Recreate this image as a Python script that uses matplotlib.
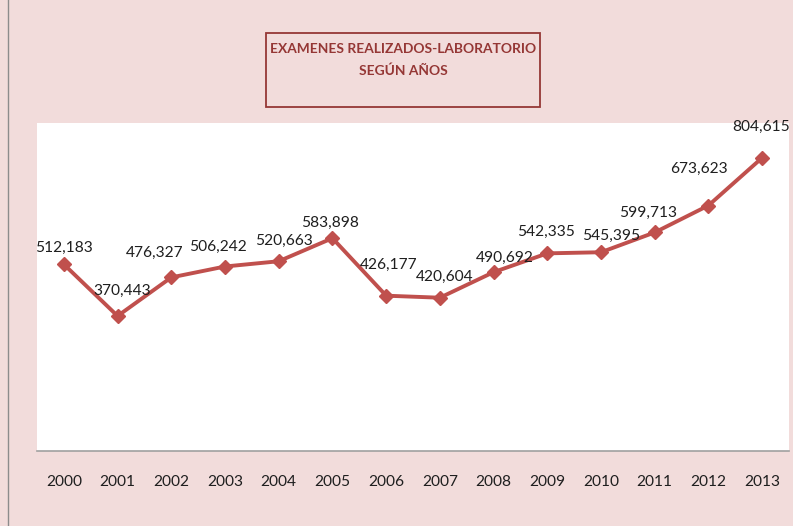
import matplotlib.pyplot as plt
from matplotlib.patches import Rectangle
from matplotlib.lines import Line2D

plt.rcParams['font.family'] = ['Lato', 'DejaVu Sans']

anios = ['2000', '2001', '2002', '2003', '2004', '2005', '2006',
         '2007', '2008', '2009', '2010', '2011', '2012', '2013']
examenes = [512183, 370443, 476327, 506242, 520663, 583898, 426177,
            420604, 490692, 542335, 545395, 599713, 673623, 804615]

# desplazamiento de cada etiqueta (px) respecto al punto
desp = [(0, 16), (5, 25), (-17, 25), (-7, 20), (5, 20), (-2, 15), (3, 31),
        (5, 21), (11, 14), (-1, 21), (10, 16), (-7, 20), (-9, 37), (-1, 31)]

rosa = '#F2DCDB'
rojo = '#C0504D'
granate = '#953735'

fig = plt.figure(figsize=(7.93, 5.26), dpi=100, facecolor=rosa)
ax = fig.add_axes([37/793, 75/526, 752/793, 328/526])
ax.set_facecolor('white')

x = range(len(anios))
ax.plot(x, examenes, color=rojo, lw=2.8, marker='D', ms=7, zorder=3)
for i, v in enumerate(examenes):
    dx, dy = desp[i]
    ax.annotate(f'{v:,}', (i, v), xytext=(dx*0.72, dy*0.72), textcoords='offset points',
                ha='center', va='center', fontsize=11.2, color='#1f1f1f')

ax.set_xlim(-0.5, len(anios) - 0.5)
ax.set_ylim(0, 900000)
ax.set_yticks([])
ax.set_xticks(list(x))
ax.set_xticklabels(anios, fontsize=11.2, color='#1f1f1f')
ax.tick_params(axis='x', length=0, pad=17)
for s in ['top', 'right', 'left']:
    ax.spines[s].set_visible(False)
ax.spines['bottom'].set_color('#A0A0A0')
ax.spines['bottom'].set_linewidth(1.2)

# recuadro del titulo
fig.patches.append(Rectangle((266/793, 1 - 107/526), 274/793, 74/526,
                             transform=fig.transFigure, facecolor=rosa,
                             edgecolor=granate, lw=1.3))
fig.text(403/793, 1 - 49/526, 'EXAMENES REALIZADOS-LABORATORIO', ha='center',
         va='center', fontsize=9.9, fontweight='bold', color=granate)
fig.text(403/793, 1 - 71/526, 'SEGÚN AÑOS', ha='center',
         va='center', fontsize=9.9, fontweight='bold', color=granate)

fig.lines.append(Line2D([7.5/793, 7.5/793], [0, 1], transform=fig.transFigure,
                        color='#8C8C8C', lw=1))

plt.savefig('out.png', dpi=100, facecolor=rosa)
